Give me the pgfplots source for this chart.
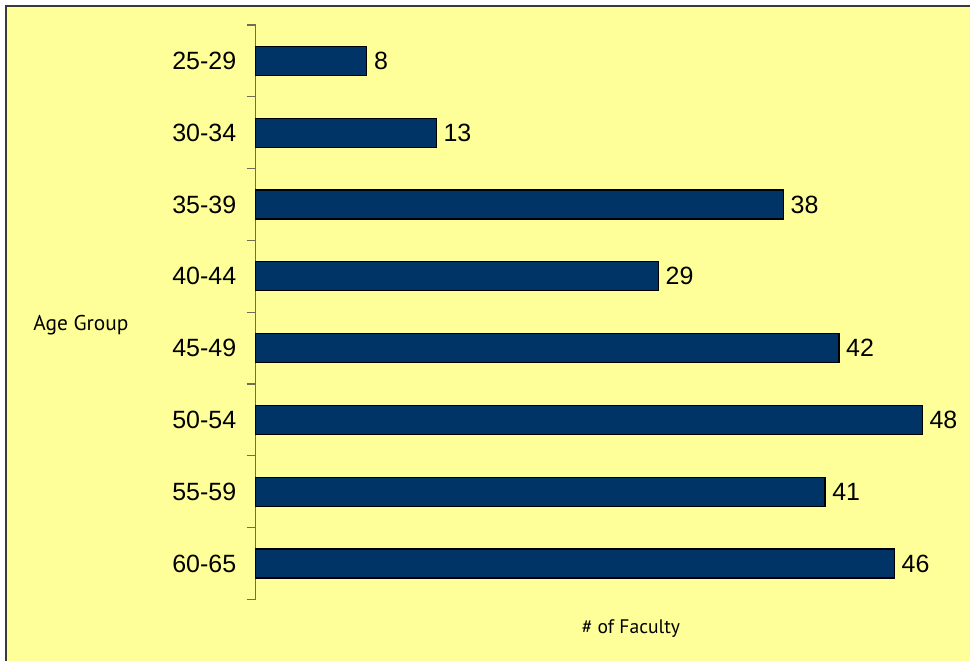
\documentclass[border=0pt]{standalone}
\usepackage{fontspec}
\setmainfont{Liberation Sans}
\newfontfamily\labelfont{PT Sans}
\usepackage{pgfplots}
\pgfplotsset{compat=1.18}
\definecolor{bg}{HTML}{FFFF99}
\definecolor{barblue}{HTML}{003366}
\definecolor{axisgray}{HTML}{6E6E50}
\definecolor{frame}{HTML}{3A3A3A}
\begin{document}
\begin{tikzpicture}
% page area (1px = 0.5pt, origin at the plot's lower left)
\path (-128pt,-31pt) rectangle (357.5pt,300pt);
\fill[bg] (-124.75pt,-31pt) rectangle (357.5pt,297pt);
\draw[frame, line width=1pt] (-124.75pt,-31pt) -- (-124.75pt,297pt) -- (357.5pt,297pt);
\begin{axis}[
    at={(0,0)}, anchor=south west,
    scale only axis,
    width=347.5pt, height=287.5pt,
    xbar, bar width=14.5pt,
    xmin=0, xmax=50,
    ymin=-0.5, ymax=7.5,
    axis x line=none,
    axis y line*=left,
    y axis line style={draw=axisgray, line width=0.6pt},
    xtick=\empty,
    ytick={0,...,7},
    yticklabels={60-65,55-59,50-54,45-49,40-44,35-39,30-34,25-29},
    major y tick style={draw=none},
    minor ytick={-0.5,0.5,...,7.5},
    minor y tick style={draw=axisgray, line width=0.6pt},
    minor tick length=4.5pt,
    tick align=outside,
    yticklabel style={font=\fontsize{12.5}{14}\selectfont, xshift=-2pt},
    nodes near coords,
    nodes near coords style={font=\fontsize{12.5}{14}\selectfont},
    /pgf/number format/assume math mode=true,
    clip=false,
]
\addplot[fill=barblue, draw=black, line width=0.6pt] coordinates {
    (46,0) (41,1) (48,2) (42,3) (29,4) (38,5) (13,6) (8,7)
};
\end{axis}
\node[font=\labelfont\fontsize{10.7}{12}\selectfont, anchor=base west, inner sep=0pt] at (-111.5pt,134.5pt) {Age Group};
\node[font=\labelfont\fontsize{9.8}{12}\selectfont, anchor=base west, inner sep=0pt] at (163pt,-17pt) {\# of Faculty};
\end{tikzpicture}
\end{document}
